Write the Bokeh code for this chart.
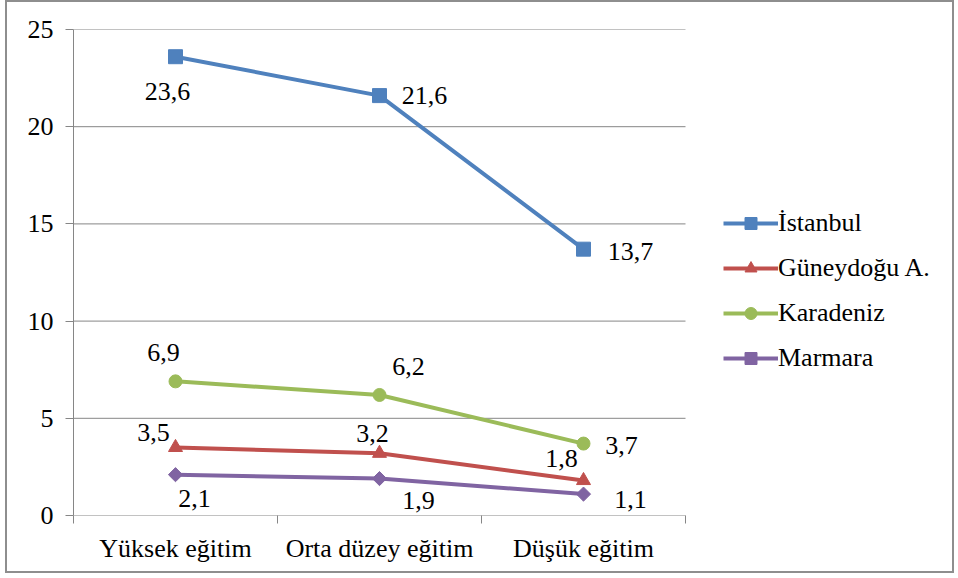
import math
from bokeh.plotting import figure
from bokeh.models import (ColumnDataSource, FixedTicker, Legend, LegendItem, Range1d, LabelSet)
from bokeh.embed import file_html
from bokeh.resources import INLINE

categories = ["Yüksek eğitim", "Orta düzey eğitim", "Düşük eğitim"]
series_names = ["İstanbul", "Güneydoğu A.", "Karadeniz", "Marmara"]
istanbul = [23.6, 21.6, 13.7]
guneydogu = [3.5, 3.2, 1.8]
karadeniz = [6.9, 6.2, 3.7]
marmara = [2.1, 1.9, 1.1]
y_ticks = [0, 5, 10, 15, 20, 25]

series_values = [istanbul, guneydogu, karadeniz, marmara]
colors = ["#4F81BD", "#C0504D", "#9BBB59", "#8064A2"]
markers = ["square", "triangle", "circle", "square"]
marker_angles = [0, 0, 0, math.pi / 4]
marker_sizes = [14, 14, 13, 10]
# pixel offsets of data labels (dx, dy up-positive)
label_dx = [[-8, 45, 47], [-22, -7, -22], [-12, 29, 38], [19, 39, 47]]
label_dy = [[-35, 0, -2], [15, 20, 22], [29, 28, -2], [-24, -22, -5]]

FONT = "Liberation Serif"
GRID = "#868686"

n_cat = len(categories)
frame_left, frame_right_px, cat_right_px = 73, 956, 685
x_max = n_cat * (frame_right_px - frame_left) / (cat_right_px - frame_left)

p = figure(width=949, height=573, output_backend="svg", toolbar_location=None,
           x_range=Range1d(0, x_max), y_range=Range1d(0, 25),
           min_border_left=66, min_border_right=0, min_border_top=27, min_border_bottom=60)
p.styles = {"border": "2px solid #8E8E8E", "margin": "0 0 0 5px"}
p.outline_line_color = None
p.background_fill_color = "white"
p.border_fill_color = "white"

xs = [i + 0.5 for i in range(n_cat)]

# gridlines limited to the category area
p.segment(x0=[0] * len(y_ticks), y0=y_ticks, x1=[n_cat] * len(y_ticks), y1=y_ticks,
          line_color=GRID, line_width=1)

# x axis
p.xaxis.ticker = FixedTicker(ticks=xs, minor_ticks=list(range(n_cat + 1)))
p.xaxis.major_label_overrides = {x: c for x, c in zip(xs, categories)}
p.xaxis.major_tick_out = 0
p.xaxis.major_tick_in = 0
p.xaxis.minor_tick_out = 8
p.xaxis.minor_tick_in = 0
p.xaxis.minor_tick_line_color = GRID
p.xaxis.axis_line_color = None
p.xaxis.major_label_text_font = FONT
p.xaxis.major_label_text_font_size = "26px"
p.xaxis.major_label_text_color = "black"
p.xaxis.major_label_standoff = 10
p.xgrid.grid_line_color = None

# y axis
p.yaxis.ticker = FixedTicker(ticks=y_ticks, minor_ticks=[])
p.yaxis.major_tick_out = 8
p.yaxis.major_tick_in = 0
p.yaxis.major_tick_line_color = GRID
p.yaxis.axis_line_color = GRID
p.yaxis.major_label_text_font = FONT
p.yaxis.major_label_text_font_size = "26px"
p.yaxis.major_label_text_color = "black"
p.yaxis.major_label_standoff = 12
p.ygrid.grid_line_color = None

items = []
for name, vals, col, mk, ang, ms, dxs, dys in zip(series_names, series_values, colors, markers,
                                                  marker_angles, marker_sizes, label_dx, label_dy):
    src = ColumnDataSource(dict(x=xs, y=vals, lab=[f"{v:.1f}".replace(".", ",") for v in vals], dx=dxs, dy=dys))
    ln = p.line("x", "y", source=src, line_color=col, line_width=4)
    sc = p.scatter("x", "y", source=src, marker=mk, angle=ang, size=ms, fill_color=col, line_color=col)
    lbl = LabelSet(x="x", y="y", text="lab", source=src, x_offset="dx", y_offset="dy",
                   text_align="center", text_baseline="middle", text_font=FONT,
                   text_font_size="26px", text_color="black")
    p.add_layout(lbl)
    items.append(LegendItem(label=name, renderers=[ln, sc]))

legend = Legend(items=items, location=(650, 142), orientation="vertical",
                label_text_font=FONT, label_text_font_size="26px", label_text_color="black",
                glyph_width=55, glyph_height=30, label_height=30, label_standoff=0,
                spacing=15, padding=0, margin=0, border_line_color=None,
                background_fill_alpha=0)
p.add_layout(legend, "center")

html = file_html(p, INLINE)
preload = ("<script>try{document.fonts.load('26px \"Liberation Serif\"');}catch(e){}</script>")
rerender = """<script>
(function(){
  function rerender(){
    try{
      var idx = (window.Bokeh && Bokeh.index) ? Bokeh.index : {};
      var views = [];
      if (idx && typeof idx[Symbol.iterator] === 'function') { views = Array.from(idx); }
      else if (idx instanceof Map) { views = Array.from(idx.values()); }
      else { views = Object.values(idx); }
      views.forEach(function(v){
        try{
          if (v.invalidate_layout) { v.invalidate_layout(); }
          else if (v.request_paint) { v.request_paint(); }
        }catch(e){}
      });
    }catch(e){}
  }
  try{
    document.fonts.load('26px "Liberation Serif"').then(function(){ setTimeout(rerender, 30); });
  }catch(e){}
})();
</script>"""
html = html.replace("<head>", "<head>\n" + preload, 1)
html = html.replace("</body>", rerender + "\n</body>", 1)
open("out.html", "w").write(html)
